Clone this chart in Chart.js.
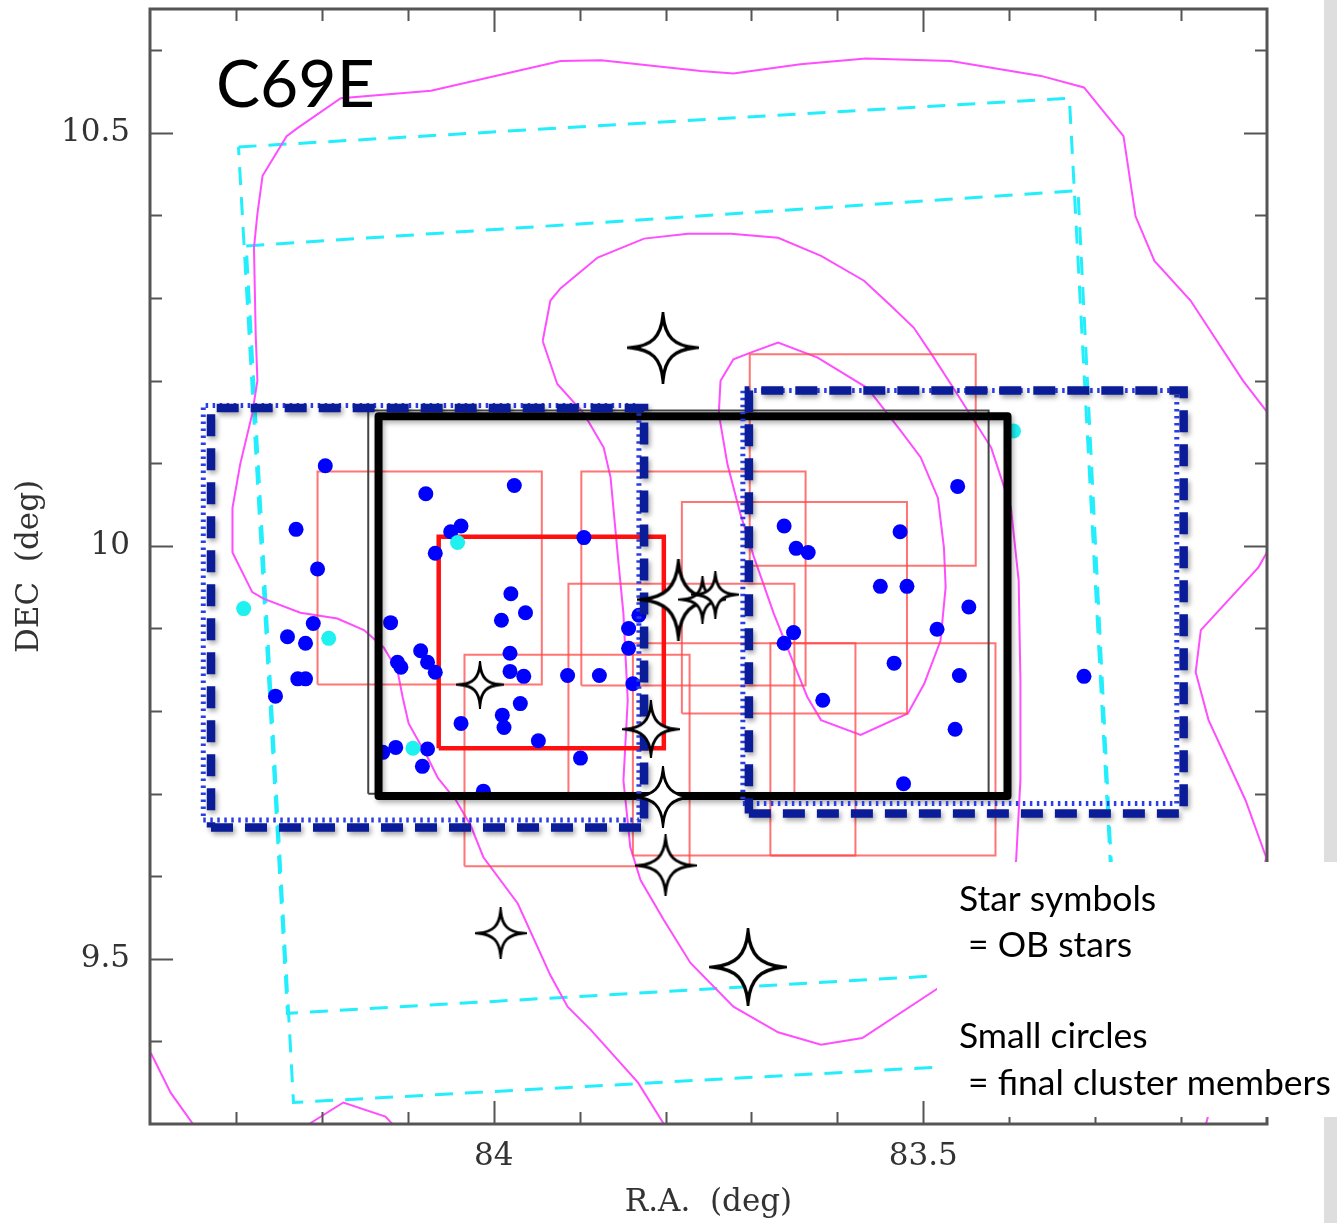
<!DOCTYPE html>
<html>
<head>
<meta charset="utf-8">
<script src="https://cdn.jsdelivr.net/npm/chart.js@4.4.1/dist/chart.umd.min.js"></script>
<style>
  html, body { margin: 0; padding: 0; background: #fff; overflow: hidden; }
  canvas { display: block; }
</style>
</head>
<body>
<canvas id="c" width="1337" height="1223"></canvas>
<script>
// ---- Axis ticks (deg) ----
const RA_MAJOR = [84, 83.5];
const DEC_MAJOR = [9.5, 10, 10.5];
const RA_MINOR = [84.3, 84.2, 84.1, 84.0, 83.9, 83.8, 83.7, 83.6, 83.5, 83.4, 83.3, 83.2];
const DEC_MINOR = [9.4, 9.5, 9.6, 9.7, 9.8, 9.9, 10.0, 10.1, 10.2, 10.3, 10.4, 10.5, 10.6];

// ---- Final cluster members (RA, Dec in deg) ----
const memberRA = [84.196, 84.079, 83.976, 84.038, 84.050, 84.068, 84.230, 84.205, 84.210, 84.240,
  84.219, 84.120, 83.980, 83.963, 83.991, 84.085, 84.077, 84.068, 84.112, 84.108,
  83.981, 83.981, 83.965, 84.228, 84.219, 84.254, 83.969, 83.990, 83.988, 84.038,
  83.948, 84.129, 84.114, 84.077, 84.083, 84.012, 83.895, 83.831, 83.843, 83.843,
  83.914, 83.877, 83.838, 83.899, 83.662, 83.648, 83.634, 83.550, 83.519, 83.651,
  83.662, 83.534, 83.617, 83.523, 83.460, 83.527, 83.447, 83.484, 83.458, 83.313, 83.463];
const memberDec = [10.097, 10.063, 10.073, 10.024, 10.017, 9.991, 10.020, 9.972, 9.906, 9.890,
  9.882, 9.907, 9.942, 9.919, 9.910, 9.873, 9.859, 9.847, 9.859, 9.853,
  9.870, 9.848, 9.842, 9.839, 9.839, 9.818, 9.809, 9.795, 9.780, 9.785,
  9.764, 9.750, 9.756, 9.754, 9.733, 9.703, 10.010, 9.916, 9.900, 9.876,
  9.843, 9.843, 9.833, 9.743, 10.024, 9.997, 9.992, 9.951, 9.951, 9.895,
  9.882, 9.858, 9.813, 9.712, 10.072, 10.017, 9.926, 9.899, 9.843, 9.842, 9.778];

// ---- Other candidates (cyan) ----
const candRA  = [84.042, 84.291, 84.192, 84.094, 83.395];
const candDec = [10.004, 9.924, 9.888, 9.755, 10.139];

// ---- OB stars ----
const obRA  = [83.803, 84.016, 83.785, 83.757, 83.742, 83.817, 83.803, 83.800, 83.992, 83.704];
const obDec = [10.240, 9.832, 9.935, 9.935, 9.941, 9.778, 9.696, 9.613, 9.531, 9.490];

// ---- Observed fields [RA east, RA west, Dec south, Dec north] ----
const redFields = [
  [84.205, 83.944, 9.832, 10.090],
  [84.034, 83.772, 9.612, 9.868],
  [83.898, 83.637, 9.831, 10.090],
  [83.781, 83.519, 9.797, 10.053],
  [83.913, 83.650, 9.700, 9.954],
  [83.838, 83.579, 9.625, 9.882],
  [83.678, 83.416, 9.625, 9.882],
  [83.702, 83.439, 9.976, 10.232]
];
const redMainField = [84.064, 83.802, 9.755, 10.011];
const blueDashFields = [[84.329, 83.825, 9.659, 10.167], [83.703, 83.197, 9.676, 10.188]];
const blueDotFields  = [[84.338, 83.831, 9.668, 10.170], [83.710, 83.205, 9.688, 10.188]];
const blackField = [84.134, 83.402, 9.697, 10.157];
const greyField  = [84.146, 83.424, 9.700, 10.164];

// ---- Survey footprints (tilted, cyan) [RA, Dec] corners ----
const surveyA = [[84.297, 10.483], [83.330, 10.542], [83.276, 9.492], [84.240, 9.434], [84.297, 10.483]];
const surveyB = [[84.288, 10.363], [83.320, 10.430], [83.270, 9.381], [84.233, 9.326], [84.288, 10.363]];

// ---- Magenta contours [RA, Dec] ----
const contourOuter = [[83.802,9.300],[83.832,9.350],[83.887,9.414],[83.914,9.442],[83.934,9.480],[83.972,9.567],
  [84.012,9.623],[84.027,9.662],[84.044,9.692],[84.065,9.719],[84.077,9.744],[84.099,9.785],[84.106,9.817],
  [84.112,9.849],[84.128,9.877],[84.151,9.898],[84.182,9.912],[84.225,9.919],[84.268,9.936],[84.281,9.944],
  [84.304,9.992],[84.304,10.046],[84.295,10.099],[84.281,10.160],[84.275,10.200],[84.277,10.257],[84.279,10.361],
  [84.275,10.402],[84.269,10.448],[84.241,10.496],[84.228,10.506],[84.178,10.542],[84.073,10.551],[83.922,10.587],
  [83.875,10.588],[83.759,10.575],[83.721,10.572],[83.643,10.583],[83.567,10.590],[83.468,10.587],[83.363,10.569],
  [83.313,10.555],[83.267,10.496],[83.253,10.399],[83.231,10.345],[83.189,10.297],[83.128,10.200],[83.099,10.161]];
const contourMid = [[83.943,10.248],[83.934,10.297],[83.922,10.312],[83.879,10.349],[83.825,10.372],[83.774,10.378],
  [83.724,10.378],[83.669,10.373],[83.619,10.351],[83.569,10.321],[83.538,10.291],[83.511,10.264],[83.491,10.233],
  [83.468,10.196],[83.421,10.119],[83.398,10.046],[83.389,9.958],[83.387,9.837],[83.387,9.716],[83.392,9.619],
  [83.410,9.547],[83.451,9.492],[83.482,9.465],[83.571,9.404],[83.619,9.396],[83.669,9.411],[83.721,9.442],
  [83.771,9.495],[83.802,9.547],[83.829,9.595],[83.841,9.635],[83.849,9.716],[83.844,9.813],[83.849,9.918],
  [83.855,9.982],[83.864,10.083],[83.872,10.119],[83.895,10.160],[83.926,10.196],[83.943,10.248]];
const contourInner = [[83.736,10.200],[83.721,10.226],[83.701,10.234],[83.669,10.246],[83.623,10.228],[83.565,10.191],
  [83.526,10.139],[83.503,10.107],[83.483,10.058],[83.476,9.998],[83.474,9.950],[83.480,9.885],[83.499,9.833],
  [83.518,9.797],[83.573,9.771],[83.619,9.789],[83.635,9.817],[83.651,9.858],[83.674,9.918],[83.697,9.986],
  [83.713,10.039],[83.728,10.099],[83.738,10.160],[83.736,10.200]];
const contourSW = [[84.399,9.386],[84.376,9.338],[84.350,9.300]];
const contourBump = [[84.215,9.300],[84.175,9.326],[84.126,9.309],[84.118,9.300]];
const contourEast = [[83.099,9.994],[83.110,9.974],[83.177,9.898],[83.183,9.847],[83.168,9.789],[83.125,9.692],
  [83.101,9.623],[83.130,9.462],[83.171,9.300]];

// ---- Styles ----
const STAR_SIZE = [32, 20, 37, 20, 20, 25, 27, 27, 22, 35];
const SERIF = 'DejaVu Serif';
const SANS = 'Lato';

const toPts = arr => arr.map(([x, y]) => ({ x, y }));
const box = f => toPts([[f[0], f[2]], [f[1], f[2]], [f[1], f[3]], [f[0], f[3]], [f[0], f[2]]]);
const zipPts = (xs, ys) => xs.map((x, i) => ({ x, y: ys[i] }));

// four-pointed star symbol with concave sides
function makeStar(r) {
  const s = Math.ceil(2 * r + 8);
  const cv = document.createElement('canvas');
  cv.width = s; cv.height = s;
  const g = cv.getContext('2d');
  const c = s / 2;
  const a = 0.07 * r, b = 0.34 * r;
  g.beginPath();
  g.moveTo(c, c - r);
  g.bezierCurveTo(c + a, c - b, c + b, c - a, c + r, c);
  g.bezierCurveTo(c + b, c + a, c + a, c + b, c, c + r);
  g.bezierCurveTo(c - a, c + b, c - b, c + a, c - r, c);
  g.bezierCurveTo(c - b, c - a, c - a, c - b, c, c - r);
  g.closePath();
  g.fillStyle = '#fff';
  g.fill();
  g.lineWidth = r > 30 ? 3.4 : 2.8;
  g.strokeStyle = '#000';
  g.lineJoin = 'miter';
  g.stroke();
  return cv;
}
const STAR_IMG = STAR_SIZE.map(makeStar);

const datasets = [];
function addLine(pts, style, order) {
  datasets.push(Object.assign({
    type: 'line', data: pts, showLine: true, pointRadius: 0, pointHoverRadius: 0, pointHitRadius: 0,
    fill: false, tension: 0, order, clip: 0, borderCapStyle: 'butt', borderJoinStyle: 'miter'
  }, style));
}

const cyanStyle = { borderColor: '#22eefc', borderWidth: 3, borderDash: [18, 12] };
addLine(toPts(surveyA), cyanStyle, 100);
addLine(toPts(surveyB), cyanStyle, 100);

const magentaStyle = { borderColor: '#ff4dff', borderWidth: 2 };
[contourOuter, contourMid, contourInner, contourSW, contourBump, contourEast]
  .forEach(c => addLine(toPts(c), magentaStyle, 90));

redFields.forEach(f => addLine(box(f), { borderColor: 'rgba(255,70,70,0.75)', borderWidth: 2 }, 80));
addLine(box(redMainField), { borderColor: '#ff1010', borderWidth: 4.5 }, 75);

datasets.push({ type: 'scatter', data: zipPts(candRA, candDec), pointRadius: 7.5, pointBackgroundColor: '#1ff0f0',
  pointBorderWidth: 0, order: 70 });
datasets.push({ type: 'scatter', data: zipPts(memberRA, memberDec), pointRadius: 7.5, pointBackgroundColor: '#0000ff',
  pointBorderWidth: 0, order: 70 });

addLine(box(greyField), { borderColor: '#444', borderWidth: 2 }, 60);
addLine(box(blackField), { borderColor: '#000', borderWidth: 8, borderJoinStyle: 'round', shadow: 'rgba(0,0,0,0.3)' }, 55);

blueDotFields.forEach(f => addLine(box(f), { borderColor: '#2b3de6', borderWidth: 5, borderDash: [2.5, 4.5] }, 50));
blueDashFields.forEach(f => addLine(box(f), { borderColor: '#0a1c98', borderWidth: 8.5, borderDash: [22, 12],
  shadow: 'rgba(0,0,0,0.35)' }, 45));

datasets.push({ type: 'scatter', data: zipPts(obRA, obDec), pointRadius: 2, pointBorderWidth: 0,
  pointStyle: ctx => STAR_IMG[ctx.dataIndex], order: 10, clip: false });

// soft shadow on the heavy outlines
const softShadow = {
  id: 'softShadow',
  beforeDatasetDraw(chart, args) {
    const ds = chart.data.datasets[args.index];
    if (ds.shadow) {
      const c = chart.ctx;
      c.save();
      c.shadowColor = ds.shadow; c.shadowBlur = 5; c.shadowOffsetX = 2; c.shadowOffsetY = 3;
    }
  },
  afterDatasetDraw(chart, args) {
    if (chart.data.datasets[args.index].shadow) chart.ctx.restore();
  }
};

// box frame with inward ticks on all four sides, plus the note panel
const frameTicks = {
  id: 'frameTicks',
  afterDatasetsDraw(chart) {
    const { ctx, chartArea: a, scales: { x, y } } = chart;
    const isMajor = (v, list) => list.some(m => Math.abs(m - v) < 1e-6);
    ctx.save();
    ctx.strokeStyle = '#555';
    ctx.lineWidth = 2;
    ctx.beginPath();
    RA_MINOR.forEach(v => {
      const px = Math.round(x.getPixelForValue(v)) + 0.5;
      const L = isMajor(v, RA_MAJOR) ? 23 : 12;
      ctx.moveTo(px, a.top); ctx.lineTo(px, a.top + L);
      ctx.moveTo(px, a.bottom); ctx.lineTo(px, a.bottom - L);
    });
    DEC_MINOR.forEach(v => {
      const py = Math.round(y.getPixelForValue(v)) + 0.5;
      const L = isMajor(v, DEC_MAJOR) ? 23 : 12;
      ctx.moveTo(a.left, py); ctx.lineTo(a.left + L, py);
      ctx.moveTo(a.right, py); ctx.lineTo(a.right - L, py);
    });
    ctx.stroke();
    ctx.lineWidth = 3;
    ctx.strokeRect(a.left, a.top, a.right - a.left, a.bottom - a.top);
    ctx.restore();
  },
  afterDraw(chart) {
    const { ctx } = chart;
    ctx.save();
    ctx.fillStyle = '#dedede';
    ctx.fillRect(1324, 0, 13, chart.height);
    ctx.fillStyle = '#fff';
    ctx.fillRect(937, 862, 400, 255);
    ctx.fillStyle = '#000';
    ctx.textBaseline = 'alphabetic';
    ctx.font = `35.5px ${SANS}`;
    ctx.fillText('Star symbols', 959, 911);
    ctx.fillText('= OB stars', 968, 957);
    ctx.fillText('Small circles', 959, 1048);
    ctx.fillText('= final cluster members', 968, 1095);
    ctx.font = `66px ${SANS}`;
    ctx.fillText('C69E', 216, 107);
    ctx.restore();
  }
};

new Chart(document.getElementById('c'), {
  data: { datasets },
  options: {
    responsive: false,
    animation: false,
    devicePixelRatio: 1,
    events: [],
    layout: { padding: { left: 0, right: 70, top: 9, bottom: 0 } },
    plugins: { legend: { display: false }, tooltip: { enabled: false } },
    scales: {
      x: {
        type: 'linear', reverse: true, min: 83.1, max: 84.4,
        grid: { display: false, drawTicks: false }, border: { display: false },
        afterBuildTicks: s => { s.ticks = RA_MAJOR.map(v => ({ value: v })); },
        afterFit: s => { s.height = 99; s.paddingLeft = 0; s.paddingRight = 0; },
        ticks: { callback: v => String(v), font: { family: SERIF, size: 31 }, color: '#333',
          padding: 14, maxRotation: 0, autoSkip: false },
        title: { display: true, text: 'R.A.  (deg)', font: { family: SERIF, size: 31 }, color: '#333',
          padding: { top: 0, bottom: 1 } }
      },
      y: {
        type: 'linear', min: 9.3, max: 10.65,
        grid: { display: false, drawTicks: false }, border: { display: false },
        afterBuildTicks: s => { s.ticks = DEC_MAJOR.map(v => ({ value: v })); },
        afterFit: s => { s.width = 150; s.paddingTop = 0; s.paddingBottom = 0; },
        ticks: { callback: v => String(v), font: { family: SERIF, size: 31 }, color: '#333',
          padding: 20, autoSkip: false },
        title: { display: true, text: 'DEC  (deg)', font: { family: SERIF, size: 31 }, color: '#333',
          padding: { top: 11, bottom: 0 } }
      }
    }
  },
  plugins: [softShadow, frameTicks]
});
</script>
</body>
</html>
